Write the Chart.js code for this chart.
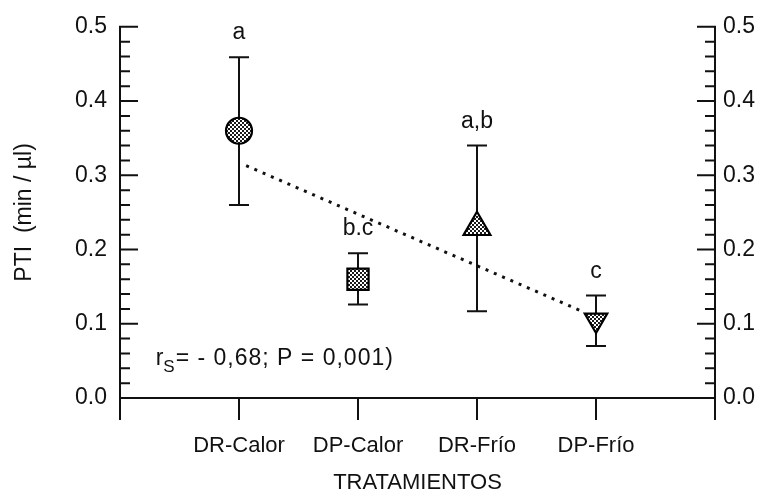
<!DOCTYPE html>
<html><head><meta charset="utf-8">
<script src="https://cdn.jsdelivr.net/npm/chart.js@4.4.1/dist/chart.umd.min.js"></script>
<style>html,body{margin:0;padding:0;background:#fff}#wrap{width:764px;height:502px}</style>
</head><body><div id="wrap"><canvas id="c" width="764" height="502"></canvas></div>
<script>
// ---- data ----
const categories = ['DR-Calor', 'DP-Calor', 'DR-Frío', 'DP-Frío'];
const means   = [0.36, 0.16, 0.23, 0.105];
const errHigh = [0.459, 0.195, 0.34, 0.138];
const errLow  = [0.26, 0.126, 0.117, 0.07];
const letters = ['a', 'b.c', 'a,b', 'c'];
const trendX  = [1.06, 3.88];
const trendY  = [0.313, 0.117];
const yTicks  = [0, 0.1, 0.2, 0.3, 0.4, 0.5];
const xTicks  = [1, 2, 3, 4];

const FONT = 'Liberation Sans, Arial, Helvetica, sans-serif';
const INK = '#111';

// stipple pattern for markers
function makePattern() {
  const p = document.createElement('canvas');
  p.width = 4; p.height = 4;
  const g = p.getContext('2d');
  g.fillStyle = '#fff'; g.fillRect(0, 0, 4, 4);
  g.fillStyle = '#1a1a1a';
  g.fillRect(0, 0, 2, 2); g.fillRect(2, 2, 2, 2);
  return document.getElementById('c').getContext('2d').createPattern(p, 'repeat');
}
const pattern = makePattern();

const decor = {
  id: 'decor',
  beforeDatasetsDraw(chart) {
    const ctx = chart.ctx, xs = chart.scales.x, ys = chart.scales.y;
    ctx.save();
    ctx.strokeStyle = INK; ctx.lineWidth = 2; ctx.lineCap = 'butt';
    // error bars
    for (let i = 0; i < means.length; i++) {
      const x = xs.getPixelForValue(xTicks[i]);
      const yh = ys.getPixelForValue(errHigh[i]), yl = ys.getPixelForValue(errLow[i]);
      ctx.beginPath();
      ctx.moveTo(x, yh); ctx.lineTo(x, yl);
      ctx.moveTo(x - 10, yh); ctx.lineTo(x + 10, yh);
      ctx.moveTo(x - 10, yl); ctx.lineTo(x + 10, yl);
      ctx.stroke();
    }
    // axes
    const xL = xs.getPixelForValue(0), xR = xs.getPixelForValue(5);
    const y0 = ys.getPixelForValue(0), yT = ys.getPixelForValue(0.5);
    const yB = y0 + 22;
    ctx.beginPath();
    ctx.moveTo(xL, yT - 1); ctx.lineTo(xL, yB);
    ctx.moveTo(xR, yT - 1); ctx.lineTo(xR, yB);
    ctx.moveTo(xL, y0); ctx.lineTo(xR, y0);
    xTicks.forEach(v => { const x = xs.getPixelForValue(v); ctx.moveTo(x, y0); ctx.lineTo(x, yB); });
    for (let k = 0; k <= 25; k++) {
      const v = k * 0.02, y = ys.getPixelForValue(v);
      const len = (k % 5 === 0) ? 18 : 10;
      ctx.moveTo(xL, y); ctx.lineTo(xL + len, y);
      ctx.moveTo(xR, y); ctx.lineTo(xR - len, y);
    }
    ctx.stroke();
    // significance letters
    ctx.fillStyle = INK;
    ctx.font = '23px ' + FONT;
    ctx.textAlign = 'center'; ctx.textBaseline = 'alphabetic';
    letters.forEach((t, i) => {
      ctx.fillText(t, xs.getPixelForValue(xTicks[i]), ys.getPixelForValue(errHigh[i]) - 18);
    });
    // correlation annotation
    ctx.textAlign = 'left';
    let ax = xs.getPixelForValue(0.30);
    const ay = ys.getPixelForValue(0.044);
    ctx.font = '23px ' + FONT;
    ctx.fillText('r', ax, ay); ax += ctx.measureText('r').width;
    ctx.font = '17px ' + FONT;
    ctx.fillText('S', ax, ay + 7); ax += ctx.measureText('S').width + 1;
    ctx.font = '23px ' + FONT;
    try { ctx.letterSpacing = '1px'; } catch (e) {}
    ctx.fillText('= - 0,68; P = 0,001)', ax, ay);
    ctx.restore();
  }
};

const tickFont = { family: FONT, size: 23 };

new Chart(document.getElementById('c'), {
  type: 'scatter',
  data: {
    datasets: [
      {
        type: 'line',
        data: trendX.map((x, i) => ({ x, y: trendY[i] })),
        borderColor: INK, borderWidth: 3, borderDash: [3, 6],
        pointRadius: 0, fill: false, order: 2
      },
      {
        data: means.map((y, i) => ({ x: xTicks[i], y })),
        pointStyle: ['circle', 'rect', 'triangle', 'triangle'],
        rotation: [0, 0, 0, 180],
        pointRadius: [13, 15, 15.5, 13],
        pointHoverRadius: [13, 15, 15.5, 13],
        backgroundColor: pattern, borderColor: '#000', borderWidth: 2.2,
        order: 1
      }
    ]
  },
  options: {
    responsive: false, animation: false, devicePixelRatio: 1,
    layout: { padding: { top: 21, left: 0, right: 0, bottom: 0 } },
    plugins: { legend: { display: false }, tooltip: { enabled: false } },
    scales: {
      x: {
        type: 'linear', min: 0, max: 5,
        afterBuildTicks: s => { s.ticks = xTicks.map(v => ({ value: v })); },
        ticks: { callback: v => categories[v - 1], font: { family: FONT, size: 22 }, color: INK, padding: 35, maxRotation: 0, autoSkip: false },
        grid: { display: false, drawTicks: false }, border: { display: false },
        title: { display: true, text: 'TRATAMIENTOS', font: { family: FONT, size: 22 }, color: INK, padding: { top: 0, bottom: 6 } },
        afterFit: s => { s.height = 104; }
      },
      y: {
        type: 'linear', position: 'left', min: 0, max: 0.5,
        afterBuildTicks: s => { s.ticks = yTicks.map(v => ({ value: v })); },
        ticks: { callback: v => v.toFixed(1), font: tickFont, color: INK, padding: 13 },
        grid: { display: false, drawTicks: false }, border: { display: false },
        title: { display: true, text: 'PTI  (min / µl)', font: tickFont, color: INK, padding: { top: 11, bottom: 0 } },
        afterFit: s => { s.width = 120; }
      },
      y2: {
        type: 'linear', position: 'right', min: 0, max: 0.5,
        afterBuildTicks: s => { s.ticks = yTicks.map(v => ({ value: v })); },
        ticks: { callback: v => v.toFixed(1), font: tickFont, color: INK, padding: 8 },
        grid: { display: false, drawTicks: false }, border: { display: false },
        afterFit: s => { s.width = 49; }
      }
    }
  },
  plugins: [decor]
});
</script></body></html>
